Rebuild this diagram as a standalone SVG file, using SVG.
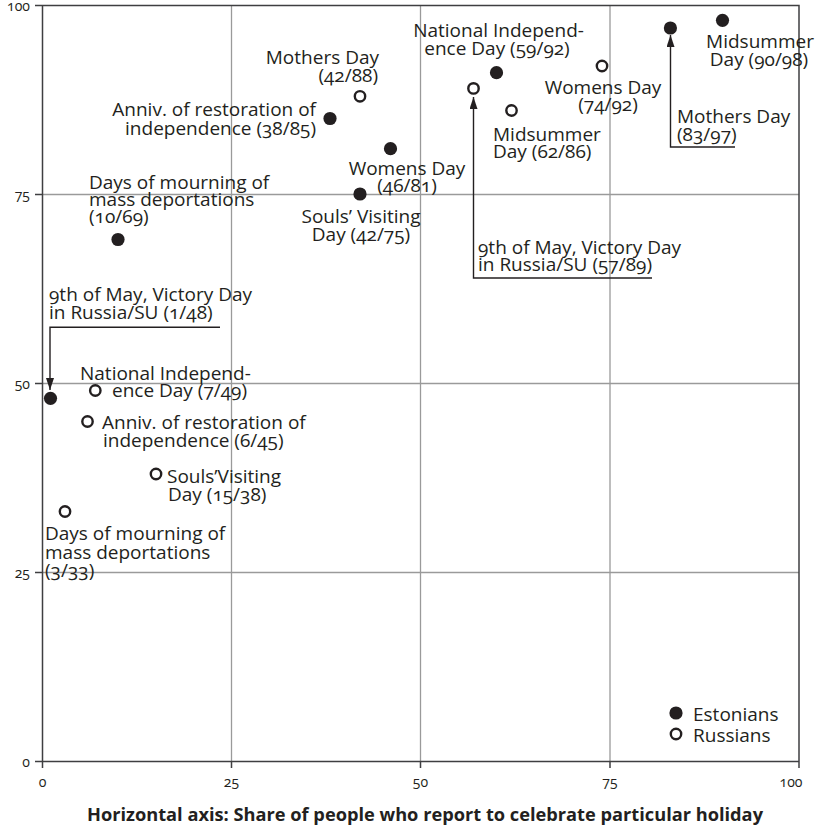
<svg xmlns="http://www.w3.org/2000/svg" width="815" height="826" viewBox="0 0 815 826">
<defs>
<style>
text{font-family:"Open Sans","Noto Sans","Liberation Sans",sans-serif;fill:#231f20;font-variant-numeric:oldstyle-nums;font-feature-settings:"onum" 1;}
.lbl{font-size:19px;}
.tick{font-size:14px;}
.title{font-size:18px;font-weight:700;}
.grid{stroke:#9a9a9a;stroke-width:1.3;fill:none;}
.frame{stroke:#3f3f41;stroke-width:1.5;fill:none;}
.est{fill:#231f20;}
.rus{fill:#fff;stroke:#231f20;stroke-width:2.4;}
.conn{stroke:#231f20;stroke-width:1.4;fill:none;}
.mid{text-anchor:middle;}
.end{text-anchor:end;}
</style>
<marker id="arr" markerUnits="userSpaceOnUse" viewBox="0 0 12 8" refX="12" refY="4" markerWidth="12" markerHeight="8" orient="auto">
<path d="M0,0 L12,4 L0,8 z" fill="#231f20"/>
</marker>
</defs>
<rect width="815" height="826" fill="#fff"/>
<g id="grid">
<path class="grid" d="M231.5,5.5V761.5M420.5,5.5V761.5M610,5.5V761.5M42.5,194.5H799M42.5,383.5H799M42.5,572.5H799"/>
<path class="frame" d="M35,5.5H799V768M42.5,5.5V768M35,761.5H799M231.5,761.5V768M420.5,761.5V768M610,761.5V768M35,194.5H42.5M35,383.5H42.5M35,572.5H42.5"/>
</g>
<g id="axis-labels">
<text class="tick end" x="30" y="11">100</text>
<text class="tick end" x="30" y="199.7">75</text>
<text class="tick end" x="30" y="388.7">50</text>
<text class="tick end" x="30" y="577.7">25</text>
<text class="tick end" x="30" y="766.5">0</text>
<text class="tick mid" x="42.5" y="787">0</text>
<text class="tick mid" x="231.5" y="787">25</text>
<text class="tick mid" x="420.5" y="787">50</text>
<text class="tick mid" x="610" y="787">75</text>
<text class="tick mid" x="791" y="787">100</text>
<text class="title mid" x="425" y="821" textLength="676" lengthAdjust="spacingAndGlyphs">Horizontal axis: Share of people who report to celebrate particular holiday</text>
</g>
<g id="connectors">
<path class="conn" d="M220,327.3H50V390" marker-end="url(#arr)"/>
<path class="conn" d="M652,278H473.5V97" marker-end="url(#arr)"/>
<path class="conn" d="M735,147H670.5V35" marker-end="url(#arr)"/>
</g>
<g id="est-midsummer">
<circle class="est" cx="722.5" cy="20.3" r="6.6"/>
<text class="lbl mid" x="760" y="47.5">Midsummer</text>
<text class="lbl mid" x="759" y="66">Day (90/98)</text>
</g>
<g id="est-mothers">
<circle class="est" cx="670.4" cy="28" r="6.6"/>
<text class="lbl" x="677" y="123">Mothers Day</text>
<text class="lbl" x="677" y="140.5">(83/97)</text>
</g>
<g id="est-national">
<circle class="est" cx="496.5" cy="72.7" r="6.6"/>
<text class="lbl mid" x="498.5" y="37">National Independ-</text>
<text class="lbl mid" x="497" y="55">ence Day (59/92)</text>
</g>
<g id="est-womens">
<circle class="est" cx="390.5" cy="148.7" r="6.6"/>
<text class="lbl mid" x="407" y="174.5">Womens Day</text>
<text class="lbl mid" x="407" y="192">(46/81)</text>
</g>
<g id="est-anniv">
<circle class="est" cx="330" cy="118.5" r="6.6"/>
<text class="lbl end" x="316" y="116">Anniv. of restoration of</text>
<text class="lbl end" x="316" y="134.5">independence (38/85)</text>
</g>
<g id="est-souls">
<circle class="est" cx="360" cy="194" r="6.6"/>
<text class="lbl mid" x="361" y="223">Souls’ Visiting</text>
<text class="lbl mid" x="361" y="241">Day (42/75)</text>
</g>
<g id="est-mourning">
<circle class="est" cx="118" cy="239.5" r="6.6"/>
<text class="lbl" x="89" y="189">Days of mourning of</text>
<text class="lbl" x="89" y="206">mass deportations</text>
<text class="lbl" x="89" y="223">(10/69)</text>
</g>
<g id="est-victory">
<circle class="est" cx="50.5" cy="398.3" r="6.6"/>
<text class="lbl" x="49" y="300.5">9th of May, Victory Day</text>
<text class="lbl" x="49" y="319">in Russia/SU (1/48)</text>
</g>
<g id="rus-victory">
<circle class="rus" cx="473.5" cy="88.4" r="5.2"/>
<text class="lbl" x="478" y="254.3">9th of May, Victory Day</text>
<text class="lbl" x="478" y="271">in Russia/SU (57/89)</text>
</g>
<g id="rus-midsummer">
<circle class="rus" cx="511.5" cy="110.5" r="5.2"/>
<text class="lbl" x="493" y="140.5">Midsummer</text>
<text class="lbl" x="493" y="158">Day (62/86)</text>
</g>
<g id="rus-womens">
<circle class="rus" cx="602" cy="66" r="5.2"/>
<text class="lbl mid" x="603" y="94">Womens Day</text>
<text class="lbl mid" x="608" y="110.5">(74/92)</text>
</g>
<g id="rus-mothers">
<circle class="rus" cx="360" cy="96.3" r="5.2"/>
<text class="lbl end" x="379" y="64">Mothers Day</text>
<text class="lbl end" x="378" y="82">(42/88)</text>
</g>
<g id="rus-national">
<circle class="rus" cx="95.3" cy="390.5" r="5.2"/>
<text class="lbl" x="80" y="379.5">National Independ-</text>
<text class="lbl" x="112" y="397">ence Day (7/49)</text>
</g>
<g id="rus-anniv">
<circle class="rus" cx="87.5" cy="421.5" r="5.2"/>
<text class="lbl" x="102" y="429">Anniv. of restoration of</text>
<text class="lbl" x="103" y="446.5">independence (6/45)</text>
</g>
<g id="rus-souls">
<circle class="rus" cx="156" cy="474" r="5.2"/>
<text class="lbl" x="167" y="482.5">Souls’Visiting</text>
<text class="lbl" x="168" y="501">Day (15/38)</text>
</g>
<g id="rus-mourning">
<circle class="rus" cx="65" cy="511.5" r="5.2"/>
<text class="lbl" x="45" y="540">Days of mourning of</text>
<text class="lbl" x="45" y="558.5">mass deportations</text>
<text class="lbl" x="45" y="576.5">(3/33)</text>
</g>
<g id="legend">
<circle class="est" cx="676" cy="713" r="6.6"/>
<text class="lbl" x="693" y="721">Estonians</text>
<circle class="rus" cx="676" cy="734" r="5.2"/>
<text class="lbl" x="693" y="742">Russians</text>
</g>
</svg>
